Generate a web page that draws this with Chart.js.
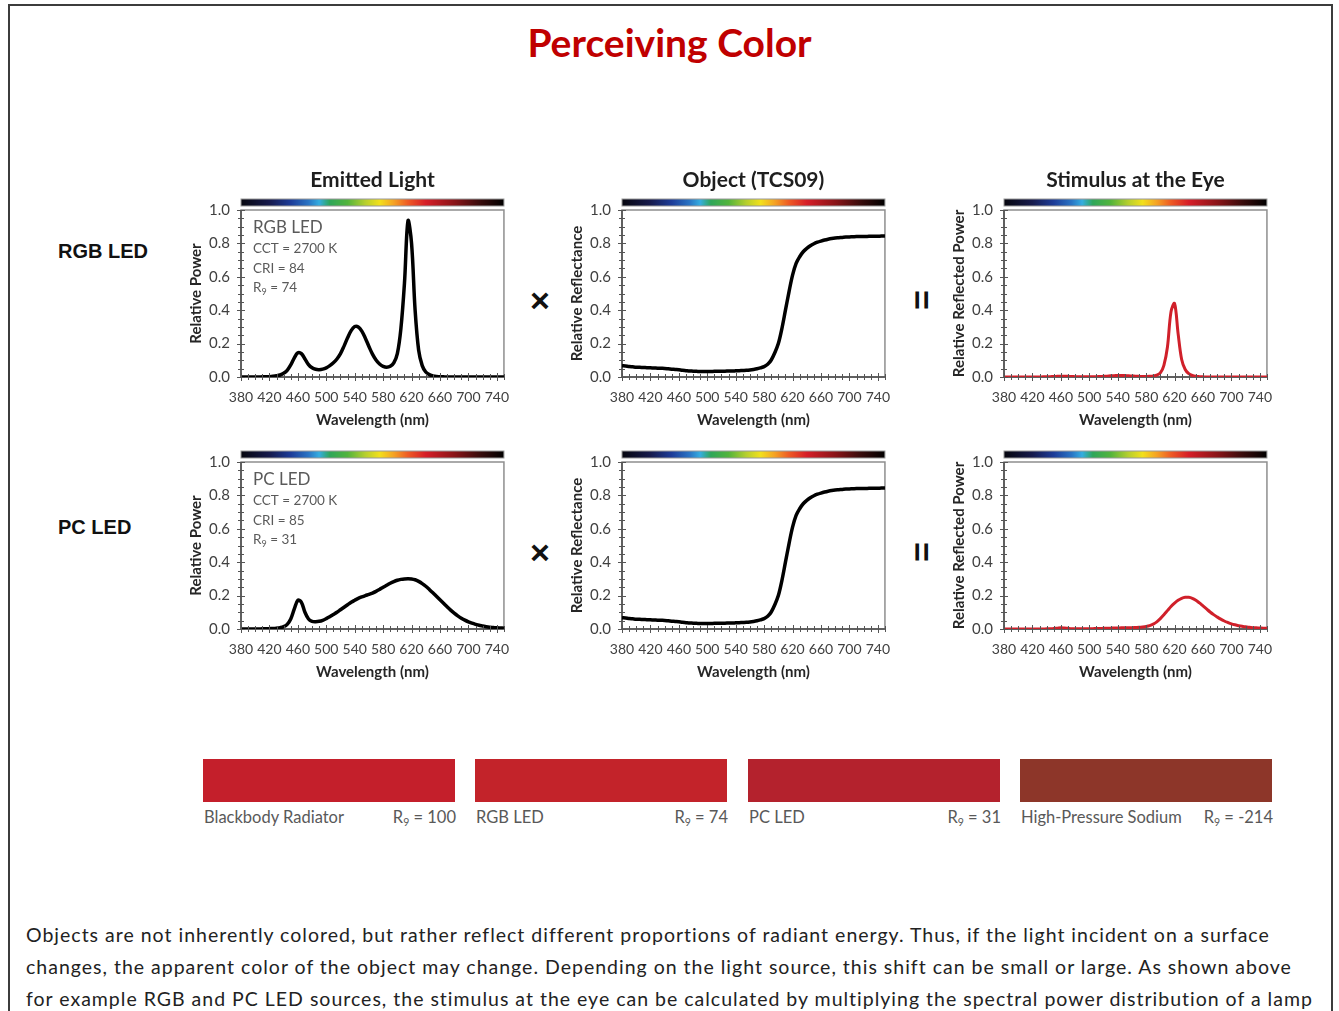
<!DOCTYPE html>
<html>
<head>
<meta charset="utf-8">
<title>Perceiving Color</title>
<script src="https://cdn.jsdelivr.net/npm/chart.js@4.4.0/dist/chart.umd.min.js"></script>
<style>
  body { margin: 0; width: 1339px; height: 1011px; overflow: hidden; position: relative; background: #fff; font-family: Lato, "Open Sans", sans-serif; }
  #frame { position: absolute; left: 8px; top: 4px; width: 1321px; height: 1100px; border: 2px solid #3c3c3c; }
  .abs { position: absolute; white-space: nowrap; }
  canvas { position: absolute; }
  #title { left: 0; top: 19px; width: 1339px; text-align: center; font-weight: 700; font-size: 39px; line-height: 46px; color: #c00000; }
  .rowlab { left: 58px; font-family: "Liberation Sans", Arial, sans-serif; font-weight: 700; font-size: 20px; line-height: 24px; color: #111; }
  .op { width: 40px; text-align: center; font-family: "Liberation Sans", Arial, sans-serif; font-weight: 700; font-size: 34px; line-height: 40px; color: #111; }
  .swatch { position: absolute; top: 759px; height: 43px; }
  .swlab { position: absolute; top: 807px; font-size: 16.5px; line-height: 20px; color: #595959; display: flex; justify-content: space-between; }
  .swlab sub { font-size: 10.5px; vertical-align: -3px; line-height: 0; }
  #para { left: 26px; top: 919px; font-size: 19.5px; line-height: 32px; color: #222; letter-spacing: 1px; }
</style>
</head>
<body>
<div id="frame"></div>
<div id="title" class="abs">Perceiving Color</div>

<div class="abs rowlab" style="top:239px">RGB LED</div>
<div class="abs rowlab" style="top:515px">PC LED</div>

<div class="abs op" style="left:520px;top:280px">×</div>
<div class="abs op" style="left:902px;top:280px;transform:rotate(90deg)">=</div>
<div class="abs op" style="left:520px;top:532px">×</div>
<div class="abs op" style="left:902px;top:532px;transform:rotate(90deg)">=</div>

<canvas id="c1" width="337" height="275" style="left:185px;top:160px"></canvas>
<canvas id="c2" width="337" height="275" style="left:566px;top:160px"></canvas>
<canvas id="c3" width="337" height="275" style="left:948px;top:160px"></canvas>
<canvas id="c4" width="337" height="245" style="left:185px;top:442px"></canvas>
<canvas id="c5" width="337" height="245" style="left:566px;top:442px"></canvas>
<canvas id="c6" width="337" height="245" style="left:948px;top:442px"></canvas>

<div id="swatches"></div>

<div id="para" class="abs">Objects are not inherently colored, but rather reflect different proportions of radiant energy. Thus, if the light incident on a surface<br>changes, the apparent color of the object may change. Depending on the light source, this shift can be small or large. As shown above<br>for example RGB and PC LED sources, the stimulus at the eye can be calculated by multiplying the spectral power distribution of a lamp</div>

<script>
// wavelength samples (nm)
const wavelengths = [
  380, 385, 390, 395, 400, 405, 410, 415, 420, 425,
  430, 435, 440, 445, 450, 455, 460, 465, 470, 475,
  480, 485, 490, 495, 500, 505, 510, 515, 520, 525,
  530, 535, 540, 545, 550, 555, 560, 565, 570, 575,
  580, 585, 590, 595, 600, 605, 610, 615, 620, 625,
  630, 635, 640, 645, 650, 655, 660, 665, 670, 675,
  680, 685, 690, 695, 700, 705, 710, 715, 720, 725,
  730, 735, 740, 745, 750
];

// relative spectral power, RGB LED
const rgbLed = [
  0, 0, 0, 0, 0, 0, 0.001, 0.001, 0.002, 0.004,
  0.007, 0.012, 0.022, 0.040, 0.072, 0.115, 0.145, 0.140, 0.108, 0.074,
  0.055, 0.046, 0.044, 0.047, 0.055, 0.068, 0.085, 0.108, 0.140, 0.185,
  0.235, 0.278, 0.302, 0.300, 0.275, 0.232, 0.183, 0.137, 0.102, 0.078,
  0.064, 0.059, 0.064, 0.085, 0.140, 0.290, 0.560, 0.935, 0.800, 0.400,
  0.160, 0.068, 0.030, 0.014, 0.007, 0.003, 0.002, 0.001, 0, 0,
  0, 0, 0, 0, 0, 0, 0, 0, 0, 0,
  0, 0, 0, 0, 0
];

// relative spectral power, PC LED
const pcLed = [
  0, 0, 0, 0, 0, 0, 0.001, 0.001, 0.002, 0.003,
  0.005, 0.008, 0.014, 0.028, 0.060, 0.120, 0.172, 0.160, 0.100, 0.060,
  0.046, 0.044, 0.046, 0.052, 0.062, 0.074, 0.087, 0.100, 0.115, 0.130,
  0.145, 0.160, 0.172, 0.183, 0.192, 0.200, 0.207, 0.215, 0.225, 0.237,
  0.250, 0.262, 0.274, 0.284, 0.292, 0.297, 0.300, 0.301, 0.300, 0.295,
  0.285, 0.272, 0.256, 0.237, 0.217, 0.196, 0.175, 0.154, 0.133, 0.113,
  0.095, 0.079, 0.065, 0.053, 0.043, 0.035, 0.028, 0.022, 0.018, 0.014,
  0.011, 0.009, 0.007, 0.006, 0.005
];

// reflectance of test color sample TCS09
const tcs09 = [
  0.068, 0.066, 0.063, 0.061, 0.059, 0.058, 0.057, 0.056, 0.055, 0.054,
  0.053, 0.052, 0.051, 0.049, 0.047, 0.045, 0.043, 0.040, 0.038, 0.036,
  0.035, 0.034, 0.033, 0.033, 0.033, 0.033, 0.034, 0.034, 0.035, 0.035,
  0.036, 0.036, 0.037, 0.038, 0.039, 0.040, 0.042, 0.045, 0.049, 0.055,
  0.062, 0.076, 0.102, 0.145, 0.200, 0.290, 0.400, 0.510, 0.610, 0.680,
  0.720, 0.750, 0.770, 0.786, 0.798, 0.807, 0.814, 0.820, 0.825, 0.829,
  0.832, 0.834, 0.836, 0.838, 0.839, 0.840, 0.841, 0.841, 0.842, 0.842,
  0.843, 0.843, 0.843, 0.844, 0.844
];

// reflected power at the eye, RGB LED on TCS09
const stimRgb = [
  0, 0, 0, 0, 0, 0, 0, 0, 0, 0,
  0, 0.001, 0.001, 0.002, 0.003, 0.004, 0.005, 0.005, 0.004, 0.003,
  0.002, 0.001, 0.001, 0.002, 0.002, 0.002, 0.002, 0.003, 0.004, 0.005,
  0.007, 0.008, 0.009, 0.009, 0.009, 0.007, 0.006, 0.005, 0.004, 0.003,
  0.003, 0.004, 0.006, 0.011, 0.024, 0.070, 0.180, 0.390, 0.440, 0.260,
  0.105, 0.045, 0.020, 0.009, 0.004, 0.002, 0.001, 0, 0, 0,
  0, 0, 0, 0, 0, 0, 0, 0, 0, 0,
  0, 0, 0, 0, 0
];

// reflected power at the eye, PC LED on TCS09
const stimPc = [
  0, 0, 0, 0, 0, 0, 0, 0, 0, 0,
  0, 0, 0.001, 0.001, 0.003, 0.005, 0.007, 0.006, 0.004, 0.002,
  0.002, 0.001, 0.001, 0.002, 0.002, 0.002, 0.003, 0.003, 0.004, 0.004,
  0.005, 0.006, 0.006, 0.007, 0.007, 0.008, 0.008, 0.009, 0.010, 0.012,
  0.015, 0.020, 0.029, 0.043, 0.062, 0.085, 0.110, 0.135, 0.155, 0.172,
  0.184, 0.190, 0.190, 0.184, 0.172, 0.156, 0.138, 0.120, 0.102, 0.086,
  0.072, 0.059, 0.048, 0.039, 0.031, 0.025, 0.020, 0.016, 0.013, 0.010,
  0.008, 0.007, 0.006, 0.005, 0.005
];

const xTicks = [380, 420, 460, 500, 540, 580, 620, 660, 700, 740];
const yTicks = [0, 0.2, 0.4, 0.6, 0.8, 1.0];

const colTitles = ['Emitted Light', 'Object (TCS09)', 'Stimulus at the Eye'];
const yTitles = ['Relative Power', 'Relative Reflectance', 'Relative Reflected Power'];

const sources = ['RGB LED', 'PC LED'];
const sourceCct = ['CCT = 2700 K', 'CCT = 2700 K'];
const sourceCri = ['CRI = 84', 'CRI = 85'];
const sourceR9 = ['74', '31'];

const swatchNames = ['Blackbody Radiator', 'RGB LED', 'PC LED', 'High-Pressure Sodium'];
const swatchR9 = ['100', '74', '31', '-214'];
const swatchColors = ['#c41f2b', '#c3232a', '#b4222d', '#8d3629'];

// spectrum bar colours above each plot
const spectrum = [
  [380, '#06060e'], [420, '#161a4c'], [450, '#1d3c98'], [475, '#2a74c4'], [490, '#35ade0'],
  [505, '#2fa65a'], [530, '#52b43c'], [555, '#b6cf2e'], [575, '#f2e01c'], [595, '#f5a224'],
  [615, '#ee5a24'], [640, '#d61e28'], [680, '#8a1418'], [715, '#3a0c0c'], [750, '#000000']
];

const decor = {
  id: 'decor',
  beforeDatasetsDraw(chart) {
    const { ctx, chartArea: a, scales: { x } } = chart;
    ctx.save();
    const g = ctx.createLinearGradient(x.getPixelForValue(380), 0, x.getPixelForValue(750), 0);
    spectrum.forEach(([w, c]) => g.addColorStop((w - 380) / 370, c));
    ctx.fillStyle = g;
    ctx.fillRect(a.left, a.top - 11, a.right - a.left, 7);
    ctx.strokeStyle = '#999';
    ctx.lineWidth = 1;
    ctx.strokeRect(a.left, a.top - 11, a.right - a.left, 7);
    // plot frame
    ctx.strokeStyle = '#8e8e8e';
    ctx.lineWidth = 1.5;
    ctx.strokeRect(a.left, a.top, a.right - a.left, a.bottom - a.top);
    ctx.strokeStyle = '#4a4a4a';
    ctx.beginPath();
    ctx.moveTo(a.left, a.top);
    ctx.lineTo(a.left, a.bottom);
    ctx.lineTo(a.right, a.bottom);
    ctx.stroke();
    ctx.restore();
  },
  afterDatasetsDraw(chart, args, opts) {
    const { ctx, chartArea: a, scales: { x, y } } = chart;
    ctx.save();
    ctx.strokeStyle = '#555';
    ctx.lineWidth = 1;
    ctx.beginPath();
    for (let w = 380; w <= 750; w += 10) {
      const px = Math.round(x.getPixelForValue(w)) + 0.5;
      const len = xTicks.includes(w) ? 4 : 3;
      ctx.moveTo(px, a.bottom - len);
      ctx.lineTo(px, a.bottom + len);
    }
    for (let i = 0; i <= 20; i++) {
      const py = Math.round(y.getPixelForValue(i * 0.05)) + 0.5;
      const len = i % 4 === 0 ? 4 : 3;
      ctx.moveTo(a.left - len, py);
      ctx.lineTo(a.left + len, py);
    }
    ctx.stroke();

    if (opts.note) {
      const n = opts.note;
      const lx = a.left + 12;
      ctx.fillStyle = '#5a5a5a';
      ctx.textBaseline = 'middle';
      ctx.font = '17px Lato';
      ctx.fillText(n.name, lx, a.top + 18);
      ctx.font = '13.5px Lato';
      ctx.fillText(n.cct, lx, a.top + 39);
      ctx.fillText(n.cri, lx, a.top + 59);
      ctx.fillText('R', lx, a.top + 78);
      const rw = ctx.measureText('R').width;
      ctx.font = '9px Lato';
      ctx.fillText('9', lx + rw, a.top + 82);
      const sw = ctx.measureText('9').width;
      ctx.font = '13.5px Lato';
      ctx.fillText(' = ' + n.r9, lx + rw + sw, a.top + 78);
    }
    ctx.restore();
  }
};

function makeChart(id, values, col, row) {
  const isStim = col === 2;
  const note = col === 0 ? { name: sources[row], cct: sourceCct[row], cri: sourceCri[row], r9: sourceR9[row] } : null;
  return new Chart(document.getElementById(id), {
    type: 'line',
    data: {
      datasets: [{
        data: wavelengths.map((w, i) => ({ x: w, y: values[i] })),
        borderColor: isStim ? '#d0202a' : '#000',
        borderWidth: isStim ? 3 : 3.5,
        pointRadius: 0,
        tension: 0.35,
        fill: false
      }]
    },
    options: {
      responsive: false,
      animation: false,
      layout: { padding: { left: 0, right: 8, top: row === 0 ? 0 : 20, bottom: 0 } },
      plugins: {
        legend: { display: false },
        tooltip: { enabled: false },
        title: {
          display: row === 0,
          fullSize: false,
          text: colTitles[col],
          color: '#1e1e1e',
          font: { family: 'Lato', size: 21, weight: 'bold' },
          padding: { top: 7.4, bottom: 17.4 }
        },
        decor: { note: note }
      },
      scales: {
        x: {
          type: 'linear',
          min: 380,
          max: 750,
          grid: { display: false, drawTicks: false },
          border: { display: false },
          afterBuildTicks: s => { s.ticks = xTicks.map(v => ({ value: v })); },
          afterFit: s => { s.height = 58; },
          ticks: { padding: 12.5, color: '#404040', font: { family: 'Lato', size: 14 }, maxRotation: 0, autoSkip: false },
          title: {
            display: true,
            text: 'Wavelength (nm)',
            color: '#262626',
            font: { family: 'Lato', size: 15, weight: 'bold' },
            padding: { top: 0, bottom: 6 }
          }
        },
        y: {
          min: 0,
          max: 1,
          grid: { display: false, drawTicks: false },
          border: { display: false },
          afterBuildTicks: s => { s.ticks = yTicks.map(v => ({ value: v })); },
          afterFit: s => { s.width = 56; },
          ticks: { padding: 11, color: '#404040', font: { family: 'Lato', size: 15 }, callback: v => v.toFixed(1) },
          title: {
            display: true,
            text: yTitles[col],
            color: '#262626',
            font: { family: 'Lato', size: 15, weight: 'bold' },
            padding: { top: 2, bottom: 0 }
          }
        }
      }
    },
    plugins: [decor]
  });
}

makeChart('c1', rgbLed, 0, 0);
makeChart('c2', tcs09, 1, 0);
makeChart('c3', stimRgb, 2, 0);
makeChart('c4', pcLed, 0, 1);
makeChart('c5', tcs09, 1, 1);
makeChart('c6', stimPc, 2, 1);

// colour swatches under the charts
const swLeft = [203, 475, 748, 1020];
const box = document.getElementById('swatches');
swatchNames.forEach((name, i) => {
  const s = document.createElement('div');
  s.className = 'swatch';
  s.style.left = swLeft[i] + 'px';
  s.style.width = '252px';
  s.style.background = swatchColors[i];
  box.appendChild(s);
  const l = document.createElement('div');
  l.className = 'swlab';
  l.style.left = (swLeft[i] + 1) + 'px';
  l.style.width = '252px';
  l.innerHTML = '<span>' + name + '</span><span>R<sub>9</sub> = ' + swatchR9[i] + '</span>';
  box.appendChild(l);
});
</script>
</body>
</html>
